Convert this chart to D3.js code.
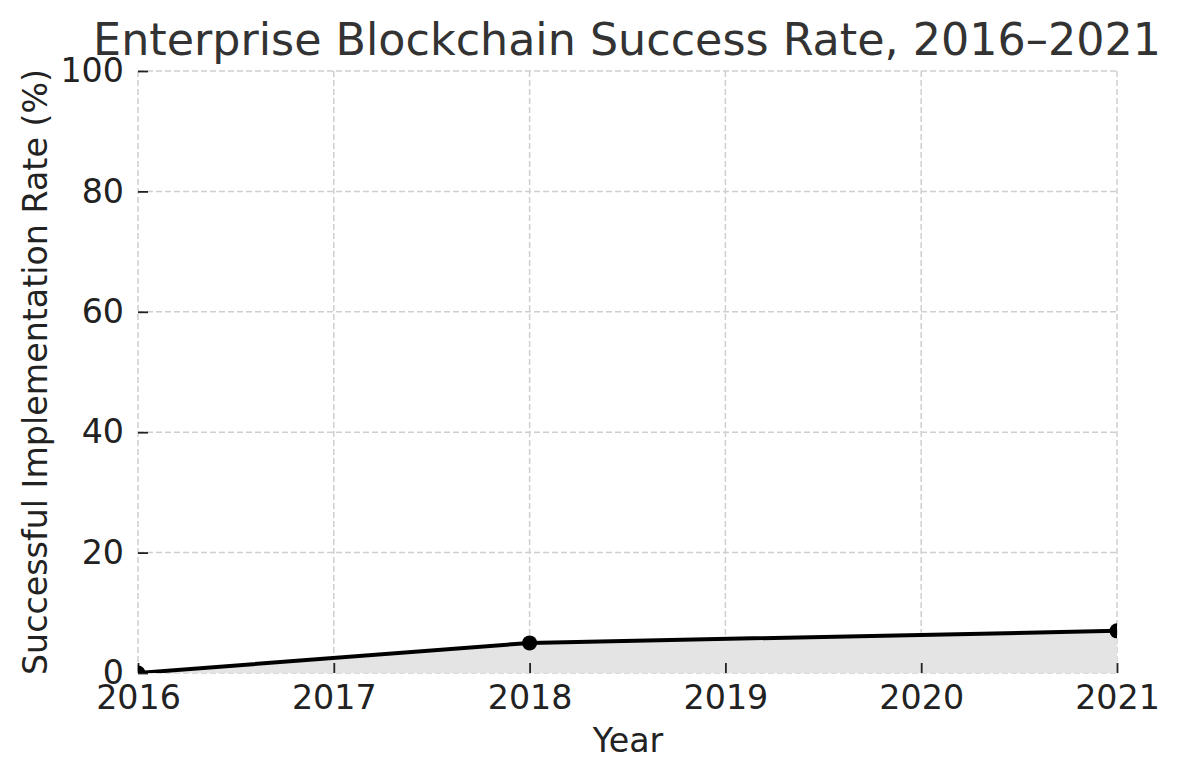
<!DOCTYPE html>
<html><head><meta charset="utf-8">
<script src="https://cdn.jsdelivr.net/npm/d3@7"></script>
<style>body{margin:0;background:#fff;} text{font-family:"DejaVu Sans",sans-serif;}</style>
</head><body>
<svg id="c" width="1182" height="780"></svg>
<script>
const years = [2016, 2018, 2021];
const rates = [0, 5, 7];
const xTicks = [2016, 2017, 2018, 2019, 2020, 2021];
const yTicks = [0, 20, 40, 60, 80, 100];
const title = "Enterprise Blockchain Success Rate, 2016–2021";
const xLabel = "Year";
const yLabel = "Successful Implementation Rate (%)";

const svg = d3.select("#c");
const m = {l:138, r:1117, t:71, b:673};
const x = d3.scaleLinear().domain([2016, 2021]).range([m.l, m.r]);
const y = d3.scaleLinear().domain([0, 100]).range([m.b, m.t]);
const data = years.map((d,i)=>({x:d, y:rates[i]}));

svg.append("defs").append("clipPath").attr("id", "plotclip")
  .append("rect").attr("x", m.l).attr("y", m.t).attr("width", m.r - m.l).attr("height", m.b - m.t);

// grid
svg.append("g").selectAll("line").data(xTicks).join("line")
  .attr("x1", d=>x(d)).attr("x2", d=>x(d)).attr("y1", m.t).attr("y2", m.b)
  .attr("stroke", "#cfcfcf").attr("stroke-width", 1.5).attr("stroke-dasharray", "6,3");
svg.append("g").selectAll("line").data(yTicks).join("line")
  .attr("x1", m.l).attr("x2", m.r).attr("y1", d=>y(d)).attr("y2", d=>y(d))
  .attr("stroke", "#cfcfcf").attr("stroke-width", 1.5).attr("stroke-dasharray", "6,3");

// area
svg.append("path").datum(data)
  .attr("d", d3.area().x(d=>x(d.x)).y0(y(0)).y1(d=>y(d.y)))
  .attr("fill", "#e4e4e4");

// axes (ticks inward)
const fs = 33.3;
const xAxis = d3.axisBottom(x).tickValues(xTicks).tickFormat(d3.format("d")).tickSizeInner(-10).tickSizeOuter(0).tickPadding(12);
const gx = svg.append("g").attr("transform", `translate(0,${m.b})`).call(xAxis);
gx.select(".domain").remove();
gx.selectAll("line").attr("stroke", "#222").attr("stroke-width", 1.8);
gx.selectAll("text").attr("font-size", fs).attr("fill", "#222").attr("font-family", "DejaVu Sans");

const yAxis = d3.axisLeft(y).tickValues(yTicks).tickSizeInner(-10).tickSizeOuter(0).tickPadding(14);
const gy = svg.append("g").attr("transform", `translate(${m.l},0)`).call(yAxis);
gy.select(".domain").remove();
gy.selectAll("line").attr("stroke", "#222").attr("stroke-width", 1.8);
gy.selectAll("text").attr("font-size", fs).attr("fill", "#222").attr("font-family", "DejaVu Sans");

// line
const pg = svg.append("g").attr("clip-path", "url(#plotclip)");
pg.append("path").datum(data)
  .attr("d", d3.line().x(d=>x(d.x)).y(d=>y(d.y)))
  .attr("fill", "none").attr("stroke", "#000").attr("stroke-width", 4);
pg.selectAll("circle").data(data).join("circle")
  .attr("cx", d=>x(d.x)).attr("cy", d=>y(d.y)).attr("r", 7.5).attr("fill", "#000");

// labels
svg.append("text").attr("x", 627).attr("y", 55).attr("text-anchor", "middle")
  .attr("font-size", 44.4).attr("fill", "#333").text(title);
svg.append("text").attr("x", 628).attr("y", 752).attr("text-anchor", "middle")
  .attr("font-size", fs).attr("fill", "#222").text(xLabel);
svg.append("text").attr("transform", `translate(47,${(m.t+m.b)/2}) rotate(-90)`).attr("text-anchor", "middle")
  .attr("font-size", fs).attr("fill", "#222").text(yLabel);
</script>
</body></html>
